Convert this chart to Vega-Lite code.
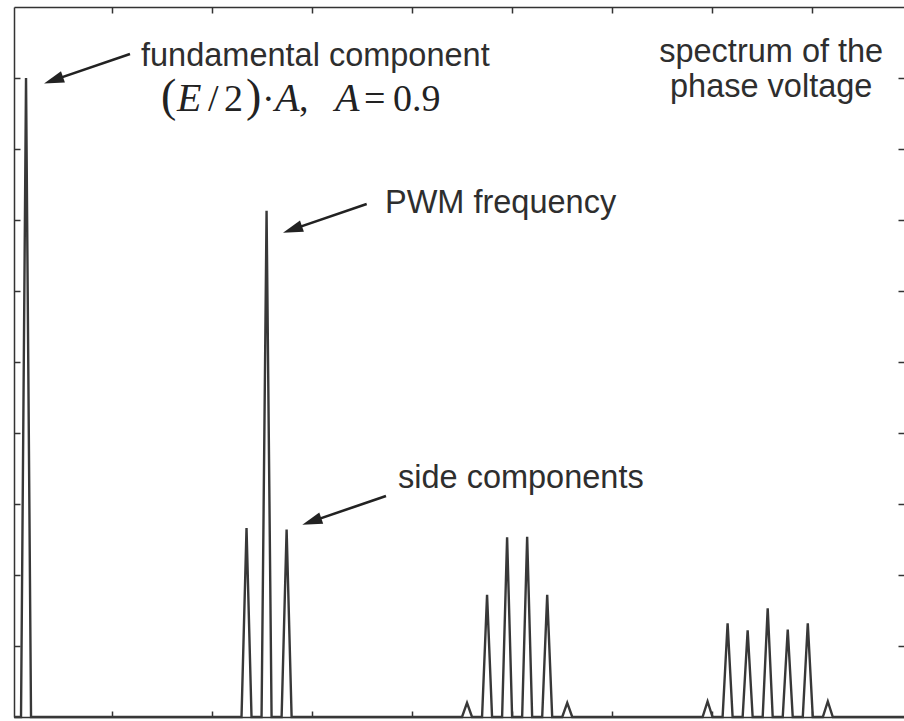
{
  "$schema": "https://vega.github.io/schema/vega-lite/v6.json",
  "width": 890,
  "height": 710,
  "autosize": {"type": "none"},
  "padding": {"left": 14, "top": 7, "right": 0, "bottom": 4},
  "background": "white",
  "config": {
    "view": {"stroke": null},
    "axis": {
      "labels": false,
      "title": null,
      "grid": false,
      "domainColor": "#333333",
      "domainWidth": 1.5,
      "tickColor": "#333333",
      "tickWidth": 1.5,
      "tickSize": -6
    }
  },
  "datasets": {
    "spectrum": [
      {"h": -0.2, "a": 0}, {"h": 0.5, "a": 0}, {"h": 1, "a": 0.9}, {"h": 1.5, "a": 0},
      {"h": 22.5, "a": 0}, {"h": 23, "a": 0.266}, {"h": 23.5, "a": 0},
      {"h": 24.5, "a": 0}, {"h": 25, "a": 0.713}, {"h": 25.5, "a": 0},
      {"h": 26.5, "a": 0}, {"h": 27, "a": 0.264}, {"h": 27.5, "a": 0},
      {"h": 44.5, "a": 0}, {"h": 45, "a": 0.02}, {"h": 45.5, "a": 0},
      {"h": 46.5, "a": 0}, {"h": 47, "a": 0.172}, {"h": 47.5, "a": 0},
      {"h": 48.5, "a": 0}, {"h": 49, "a": 0.253}, {"h": 49.5, "a": 0},
      {"h": 50.5, "a": 0}, {"h": 51, "a": 0.254}, {"h": 51.5, "a": 0},
      {"h": 52.5, "a": 0}, {"h": 53, "a": 0.172}, {"h": 53.5, "a": 0},
      {"h": 54.5, "a": 0}, {"h": 55, "a": 0.02}, {"h": 55.5, "a": 0},
      {"h": 68.5, "a": 0}, {"h": 69, "a": 0.022}, {"h": 69.5, "a": 0},
      {"h": 70.5, "a": 0}, {"h": 71, "a": 0.132}, {"h": 71.5, "a": 0},
      {"h": 72.5, "a": 0}, {"h": 73, "a": 0.122}, {"h": 73.5, "a": 0},
      {"h": 74.5, "a": 0}, {"h": 75, "a": 0.153}, {"h": 75.5, "a": 0},
      {"h": 76.5, "a": 0}, {"h": 77, "a": 0.123}, {"h": 77.5, "a": 0},
      {"h": 78.5, "a": 0}, {"h": 79, "a": 0.132}, {"h": 79.5, "a": 0},
      {"h": 80.5, "a": 0}, {"h": 81, "a": 0.022}, {"h": 81.5, "a": 0},
      {"h": 88.6, "a": 0}
    ],
    "arrows": [
      {"x1": 11.373, "y1": 0.9338, "hx": 3.741, "hy": 0.897},
      {"x1": 34.989, "y1": 0.7225, "hx": 27.586, "hy": 0.6868},
      {"x1": 36.915, "y1": 0.3113, "hx": 29.512, "hy": 0.2755}
    ],
    "labels": [
      {"x": 12.471, "y": 0.9169, "text": "fundamental component"},
      {"x": 36.815, "y": 0.7099, "text": "PWM frequency"},
      {"x": 38.112, "y": 0.3225, "text": "side components"}
    ],
    "title": [
      {"x": 75.35, "y": 0.9225, "text": "spectrum of the"},
      {"x": 75.35, "y": 0.8732, "text": "phase voltage"}
    ],
    "mathUpright": [
      {"x": 19.155, "y": 0.8535, "text": "/"},
      {"x": 20.752, "y": 0.8535, "text": "2"},
      {"x": 24.543, "y": 0.8535, "text": "·"},
      {"x": 28.235, "y": 0.8535, "text": ","},
      {"x": 34.72, "y": 0.8535, "text": "="},
      {"x": 37.613, "y": 0.8535, "text": "0.9"}
    ],
    "mathItalic": [
      {"x": 16.063, "y": 0.8535, "text": "E"},
      {"x": 25.84, "y": 0.8535, "text": "A"},
      {"x": 31.826, "y": 0.8535, "text": "A"}
    ],
    "mathParen": [
      {"x": 14.466, "y": 0.8535, "text": "("},
      {"x": 22.947, "y": 0.8535, "text": ")"}
    ]
  },
  "layer": [
    {
      "data": {"name": "spectrum"},
      "mark": {"type": "line", "color": "#383838", "strokeWidth": 2.4},
      "encoding": {
        "x": {"field": "h", "type": "quantitative", "scale": {"domain": [-0.2, 88.6], "nice": false, "zero": false},
          "axis": {"orient": "bottom", "values": [9.578, 19.555, 29.532, 39.509, 49.486, 59.463, 69.44, 79.417]}},
        "y": {"field": "a", "type": "quantitative", "scale": {"domain": [0, 1], "nice": false},
          "axis": {"orient": "left", "values": [0.1, 0.2, 0.3, 0.4, 0.5, 0.6, 0.7, 0.8, 0.9]}}
      }
    },
    {
      "data": {"name": "arrows"},
      "mark": {"type": "rule", "color": "#222222", "strokeWidth": 2.6},
      "encoding": {
        "x": {"field": "x1", "type": "quantitative", "scale": {"domain": [-0.2, 88.6], "nice": false, "zero": false}, "axis": null},
        "y": {"field": "y1", "type": "quantitative", "scale": {"domain": [0, 1], "nice": false}, "axis": null},
        "x2": {"field": "hx"},
        "y2": {"field": "hy"}
      }
    },
    {
      "data": {"name": "arrows"},
      "mark": {"type": "point", "shape": "M-1,-0.6L1,0L-1,0.6Z", "filled": true, "fill": "#222222", "opacity": 1, "size": 400, "angle": 161, "strokeWidth": 0},
      "encoding": {
        "x": {"field": "hx", "type": "quantitative", "scale": {"domain": [-0.2, 88.6], "nice": false, "zero": false}, "axis": null},
        "y": {"field": "hy", "type": "quantitative", "scale": {"domain": [0, 1], "nice": false}, "axis": null}
      }
    },
    {
      "data": {"name": "labels"},
      "mark": {"type": "text", "align": "left", "baseline": "alphabetic", "font": "Liberation Sans", "fontSize": 32.5, "color": "#2e2e2e"},
      "encoding": {
        "x": {"field": "x", "type": "quantitative", "scale": {"domain": [-0.2, 88.6], "nice": false, "zero": false},
          "axis": {"orient": "top", "values": [9.578, 19.555, 29.532, 39.509, 49.486, 59.463, 69.44, 79.417]}},
        "y": {"field": "y", "type": "quantitative", "scale": {"domain": [0, 1], "nice": false},
          "axis": {"orient": "right", "domain": false, "values": [0.1, 0.2, 0.3, 0.4, 0.5, 0.6, 0.7, 0.8, 0.9]}},
        "text": {"field": "text"}
      }
    },
    {
      "data": {"name": "title"},
      "mark": {"type": "text", "align": "center", "baseline": "alphabetic", "font": "Liberation Sans", "fontSize": 32.5, "color": "#2e2e2e"},
      "encoding": {
        "x": {"field": "x", "type": "quantitative", "scale": {"domain": [-0.2, 88.6], "nice": false, "zero": false}, "axis": null},
        "y": {"field": "y", "type": "quantitative", "scale": {"domain": [0, 1], "nice": false}, "axis": null},
        "text": {"field": "text"}
      }
    },
    {
      "data": {"name": "mathUpright"},
      "mark": {"type": "text", "align": "left", "baseline": "alphabetic", "font": "Liberation Serif", "fontSize": 38, "color": "#222222"},
      "encoding": {
        "x": {"field": "x", "type": "quantitative", "scale": {"domain": [-0.2, 88.6], "nice": false, "zero": false}, "axis": null},
        "y": {"field": "y", "type": "quantitative", "scale": {"domain": [0, 1], "nice": false}, "axis": null},
        "text": {"field": "text"}
      }
    },
    {
      "data": {"name": "mathItalic"},
      "mark": {"type": "text", "align": "left", "baseline": "alphabetic", "font": "Liberation Serif", "fontStyle": "italic", "fontSize": 40, "color": "#222222"},
      "encoding": {
        "x": {"field": "x", "type": "quantitative", "scale": {"domain": [-0.2, 88.6], "nice": false, "zero": false}, "axis": null},
        "y": {"field": "y", "type": "quantitative", "scale": {"domain": [0, 1], "nice": false}, "axis": null},
        "text": {"field": "text"}
      }
    },
    {
      "data": {"name": "mathParen"},
      "mark": {"type": "text", "align": "left", "baseline": "alphabetic", "font": "Liberation Serif", "fontSize": 46, "color": "#222222"},
      "encoding": {
        "x": {"field": "x", "type": "quantitative", "scale": {"domain": [-0.2, 88.6], "nice": false, "zero": false}, "axis": null},
        "y": {"field": "y", "type": "quantitative", "scale": {"domain": [0, 1], "nice": false}, "axis": null},
        "text": {"field": "text"}
      }
    }
  ],
  "resolve": {"axis": {"x": "independent", "y": "independent"}}
}
